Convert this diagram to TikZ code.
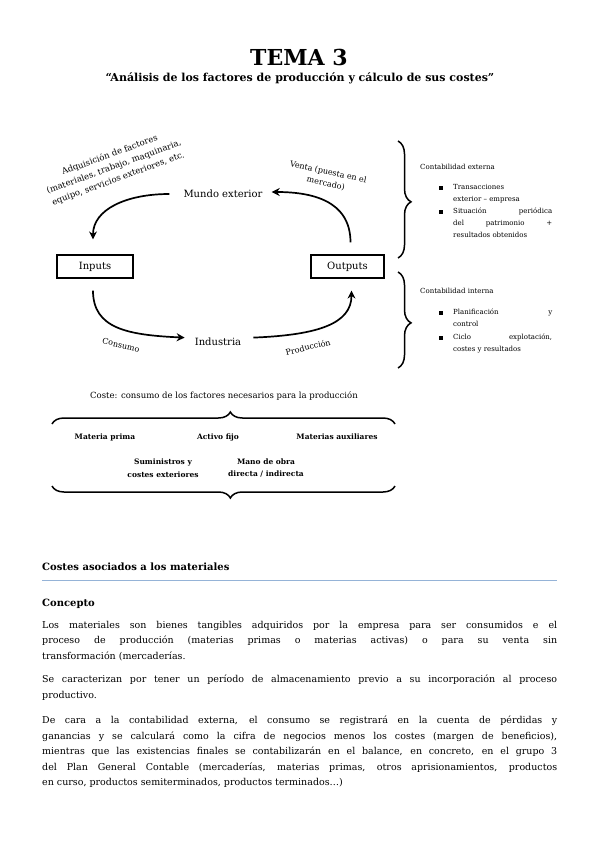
\documentclass[tikz,border=0pt]{standalone}
\usepackage{fontspec}
\setmainfont{DejaVu Serif}
\usetikzlibrary{arrows.meta,decorations.pathreplacing}
\definecolor{rulablue}{RGB}{149,179,215}

\begin{document}
\begin{tikzpicture}[
  x=1pt, y=-1pt,
  titulo/.style={font=\fontsize{22}{24}\selectfont\bfseries},
  subtitulo/.style={font=\fontsize{11}{13}\selectfont\bfseries},
  etiq/.style={font=\fontsize{10}{12}\selectfont, inner sep=2pt},
  caja/.style={draw, line width=1.2pt, minimum height=23pt, font=\fontsize{10}{12}\selectfont},
  flecha/.style={-{Stealth[length=8pt,width=8pt]}, line width=1.7pt},
  nota/.style={font=\fontsize{8.5}{12.5}\selectfont, align=center, inner sep=1pt},
  llave/.style={decorate, decoration={brace, amplitude=13pt}, line width=1.5pt},
  peq/.style={font=\fontsize{7}{12}\selectfont, inner sep=0pt},
  punto/.style={peq, text width=99pt, align=justify, anchor=north west},
  vineta/.style={fill, minimum size=3.4pt, inner sep=0pt},
  coste/.style={font=\fontsize{7.5}{12.5}\selectfont\bfseries, align=center},
  cabecera/.style={font=\fontsize{10}{12}\selectfont\bfseries, anchor=west, inner sep=0pt},
  parrafo/.style={font=\fontsize{9.5}{15.5}\selectfont, text width=515pt, align=justify,
    anchor=north west, inner sep=0pt}
]
  \fill[white] (0,0) rectangle (599,848);
  \useasboundingbox (0,0) rectangle (599,848);

  % Titulo
  \node[titulo] (tema) at (299,57) {TEMA 3};
  \node[subtitulo] (sub) at (300,78)
    {“Análisis de los factores de producción y cálculo de sus costes”};

  % Ciclo: mundo exterior - inputs - industria - outputs
  \node[etiq] (mundo) at (223,194) {Mundo exterior};
  \node[caja, minimum width=76pt] (inputs) at (95,266.5) {Inputs};
  \node[caja, minimum width=73pt] (outputs) at (347.5,266.5) {Outputs};
  \node[etiq] (industria) at (218,342) {Industria};

  \draw[flecha, shorten <=12pt, shorten >=15pt] (mundo.west)
    .. controls +(-55,0) and +(0,-45) .. ([xshift=-2pt]inputs.north);
  \draw[flecha, shorten <=12pt, shorten >=7pt] ([xshift=3pt]outputs.north)
    .. controls +(0,-55) and +(45,0) .. ([yshift=2pt]mundo.east);
  \draw[flecha, shorten <=12pt, shorten >=8pt] ([xshift=-2pt]inputs.south)
    .. controls +(0,50) and +(-65,-3) .. ([yshift=4pt]industria.west);
  \draw[flecha, shorten <=10pt, shorten >=12pt] ([yshift=4pt]industria.east)
    .. controls +(75,-3) and +(0,45) .. ([xshift=4pt]outputs.south);

  % Etiquetas de las flechas (giradas)
  \node[nota, rotate=20] (adq) at (114,167)
    {Adquisición de factores\\(materiales, trabajo, maquinaria,\\equipo, servicios exteriores, etc.};
  \node[nota, font=\fontsize{8}{11.5}\selectfont, rotate=-12] (venta) at (327,178)
    {Venta (puesta en el\\mercado)};
  \node[nota, font=\fontsize{8}{10}\selectfont, rotate=-13] (consumo) at (121,345) {Consumo};
  \node[nota, font=\fontsize{8}{10}\selectfont, rotate=13] (produccion) at (308,347) {Producción};

  % Llaves a la derecha: contabilidad externa / interna
  \draw[llave, decoration={aspect=0.52}] (398,141) -- (398,258);
  \draw[llave, decoration={aspect=0.53}] (398,272) -- (398,368);

  \node[peq, anchor=west] (cext) at (420,167) {Contabilidad externa};
  \node[vineta] (b1) at (441,188) {};
  \node[punto] (t1) at (453,184) {Transacciones\\exterior – empresa};
  \node[vineta] (b2) at (441,212) {};
  \node[punto] (t2) at (453,208)
    {Situación periódica\linebreak del patrimonio +\linebreak resultados obtenidos};

  \node[peq, anchor=west] (cint) at (420,291) {Contabilidad interna};
  \node[vineta] (b3) at (441,313) {};
  \node[punto] (t3) at (453,309) {Planificación y\linebreak control};
  \node[vineta] (b4) at (441,338) {};
  \node[punto] (t4) at (453,334) {Ciclo explotación,\linebreak costes y resultados};

  % Factores del coste entre llaves
  \node[peq, font=\fontsize{8.5}{10}\selectfont] (coste) at (224,396)
    {Coste: consumo de los factores necesarios para la producción};
  \draw[llave, decoration={amplitude=12pt, aspect=0.52}] (52,424) -- (395,424);
  \node[coste] (mprima) at (105,437) {Materia prima};
  \node[coste] (afijo) at (218,437) {Activo fijo};
  \node[coste] (maux) at (337,437) {Materias auxiliares};
  \node[coste] (sumin) at (163,468) {Suministros y\\costes exteriores};
  \node[coste] (mano) at (266,468) {Mano de obra\\directa / indirecta};
  \draw[llave, decoration={amplitude=12pt, aspect=0.48}] (395,486) -- (52,486);

  % Texto: costes asociados a los materiales
  \node[cabecera] (cam) at (42,567) {Costes asociados a los materiales};
  \draw[rulablue, line width=1pt] (42,580) -- (557,580);
  \node[cabecera] (concepto) at (42,604) {Concepto};

  \node[parrafo] (p1) at (42,621)
    {Los materiales son bienes tangibles adquiridos por la empresa para ser consumidos e el\linebreak
     proceso de producción (materias primas o materias activas) o para su venta sin\linebreak
     transformación (mercaderías.};
  \node[parrafo] (p2) at (42,675)
    {Se caracterizan por tener un período de almacenamiento previo a su incorporación al proceso\linebreak
     productivo.};
  \node[parrafo] (p3) at (42,716)
    {De cara a la contabilidad externa, el consumo se registrará en la cuenta de pérdidas y\linebreak
     ganancias y se calculará como la cifra de negocios menos los costes (margen de beneficios),\linebreak
     mientras que las existencias finales se contabilizarán en el balance, en concreto, en el grupo 3\linebreak
     del Plan General Contable (mercaderías, materias primas, otros aprisionamientos, productos\linebreak
     en curso, productos semiterminados, productos terminados…)};
\end{tikzpicture}
\end{document}
